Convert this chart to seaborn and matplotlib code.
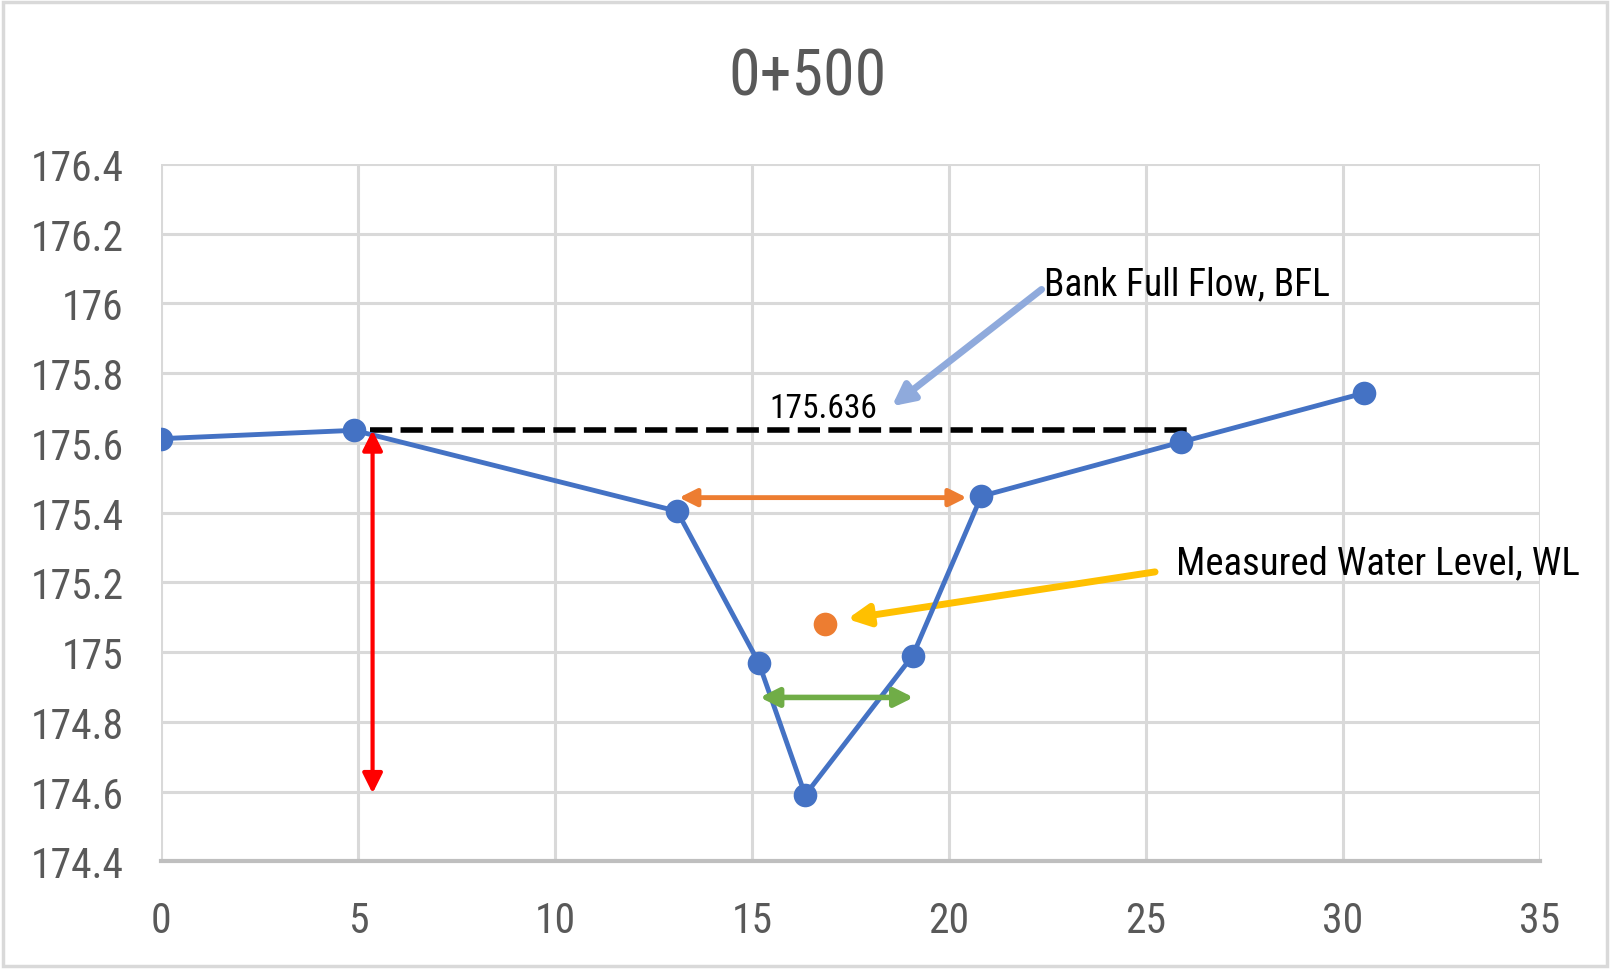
import numpy as np
import pandas as pd
import seaborn as sns
import matplotlib.pyplot as plt
from matplotlib import font_manager
from matplotlib.patches import Rectangle
from matplotlib.ticker import FuncFormatter

# Sección 0+500 - distancia (m) vs cota (m)
distancia = [0, 4.9, 13.1, 15.17, 16.35, 19.08, 20.82, 25.88, 30.54]
cota = [175.612, 175.636, 175.404, 174.97, 174.59, 174.99, 175.447, 175.602, 175.743]

# nivel de agua medido
wl_x = [16.86]
wl_y = [175.082]

bfl = 175.636
bfl_tramo = [5.3, 26.2]

x_ticks = [0, 5, 10, 15, 20, 25, 30, 35]
y_ticks = [174.4, 174.6, 174.8, 175, 175.2, 175.4, 175.6, 175.8, 176, 176.2, 176.4]

sns.set_style("white")

# fuente estrecha si la hay
instaladas = {f.name for f in font_manager.fontManager.ttflist}
fuente = "DejaVu Sans"
escala = 0.8
for nombre, k in [("Liberation Sans Narrow", 1.0), ("DejaVu Sans Condensed", 0.86),
                  ("Roboto Condensed", 1.0), ("Roboto", 0.85)]:
    if nombre in instaladas:
        fuente, escala = nombre, k
        break
plt.rcParams['font.family'] = [fuente, 'DejaVu Sans']

df = pd.DataFrame({"dist": distancia, "cota": cota})
df_wl = pd.DataFrame({"dist": wl_x, "cota": wl_y})

fig = plt.figure(figsize=(16.1, 9.7), dpi=100)
ax = fig.add_axes([0.100, 0.111, 0.8565, 0.719])

# borde exterior
fig.patches.append(Rectangle((0.002, 0.003), 0.996, 0.994, transform=fig.transFigure,
                             fill=False, edgecolor="#D9D9D9", linewidth=2.5))

ax.set_xlim(0, 35)
ax.set_ylim(174.4, 176.4)
ax.set_xticks(x_ticks)
ax.set_yticks(y_ticks)
ax.yaxis.set_major_formatter(FuncFormatter(lambda v, p: f"{v:g}"))
ax.grid(True, color="#D9D9D9", linewidth=2.2, zorder=0)
ax.set_axisbelow(True)
for s in ["top", "right", "left"]:
    ax.spines[s].set_visible(False)
ax.spines["bottom"].set_color("#BFBFBF")
ax.spines["bottom"].set_linewidth(3)
ax.tick_params(axis="both", length=0, labelsize=30 * escala, labelcolor="#595959")
ax.tick_params(axis="x", pad=28)
ax.tick_params(axis="y", pad=27)

# linea BFL
ax.plot(bfl_tramo, [bfl, bfl], color="black", linewidth=4, linestyle=(0, (4, 1.5)), zorder=3)

sns.lineplot(data=df, x="dist", y="cota", sort=False, color="#4472C4", linewidth=3.5,
             marker="o", markersize=17, markeredgewidth=0, ax=ax, zorder=4)
sns.scatterplot(data=df_wl, x="dist", y="cota", color="#ED7D31", s=290, linewidth=0, ax=ax, zorder=5)
ax.set_xlabel("")
ax.set_ylabel("")

# flechas de ancho / profundidad
ax.annotate("", xy=(5.37, 174.595), xytext=(5.37, bfl),
            arrowprops=dict(arrowstyle="<|-|>", color="#FF0000", lw=3, mutation_scale=30,
                            shrinkA=0, shrinkB=0), zorder=6)
ax.annotate("", xy=(13.15, 175.443), xytext=(20.45, 175.443),
            arrowprops=dict(arrowstyle="<|-|>", color="#ED7D31", lw=3.5, mutation_scale=26,
                            shrinkA=0, shrinkB=0), zorder=6)
ax.annotate("", xy=(15.2, 174.87), xytext=(19.1, 174.87),
            arrowprops=dict(arrowstyle="<|-|>", color="#70AD47", lw=4, mutation_scale=28,
                            shrinkA=0, shrinkB=0), zorder=6)

# etiquetas con flechas
ax.text(15.45, 175.70, "175.636", fontsize=24 * escala, color="black", va="center", ha="left")
ax.annotate("", xy=(18.55, 175.705), xytext=(22.35, 176.04),
            arrowprops=dict(arrowstyle="-|>", color="#8FAADC", lw=5, mutation_scale=32,
                            shrinkA=0, shrinkB=0))
ax.text(22.42, 176.056, "Bank Full Flow, BFL", fontsize=27 * escala, color="black",
        va="center", ha="left")

ax.annotate("", xy=(17.42, 175.095), xytext=(25.23, 175.23),
            arrowprops=dict(arrowstyle="-|>", color="#FFC000", lw=5, mutation_scale=32,
                            shrinkA=0, shrinkB=0))
ax.text(25.76, 175.256, "Measured Water Level, WL", fontsize=28 * escala, color="black",
        va="center", ha="left", clip_on=False)

fig.text(0.5015, 0.92, "0+500", fontsize=46 * escala, color="#595959", ha="center", va="center")

fig.savefig("out.png", dpi=100)
